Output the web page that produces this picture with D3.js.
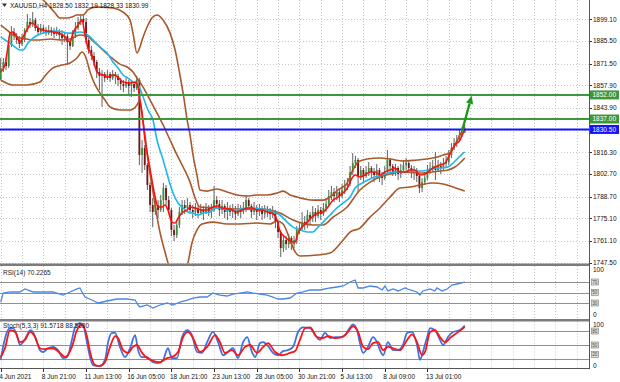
<!DOCTYPE html>
<html>
<head>
<meta charset="utf-8">
<script src="https://cdn.jsdelivr.net/npm/d3@7"></script>
<style>
html, body { margin: 0; padding: 0; background: #fff; }
svg { display: block; font-family: "Liberation Sans", Arial, sans-serif; }
</style>
</head>
<body>
<script>
// XAUUSD H4 bars (open of each bar = previous close)
var firstOpen = 1861.9;
var closes = [
  1868.8,1872.5,1870.0,1883.1,1891.2,1888.7,1886.2,1883.7,1886.2,1892.4,
  1897.4,1896.2,1898.6,1893.7,1891.2,1893.7,1891.8,1890.5,1892.4,1891.2,
  1889.9,1891.8,1889.3,1887.4,1888.7,1884.9,1882.5,1888.7,1893.7,1897.4,
  1899.3,1897.4,1886.2,1880.0,1876.2,1872.5,1866.3,1863.8,1865.0,1862.5,
  1865.0,1862.5,1865.0,1863.8,1861.3,1858.8,1857.5,1860.0,1857.5,1858.8,
  1856.3,1861.3,1814.6,1818.9,1808.3,1795.9,1783.4,1779.1,1783.4,1780.3,
  1786.5,1794.0,1786.5,1780.3,1767.9,1764.7,1771.0,1779.1,1783.4,1781.6,
  1783.4,1780.3,1779.1,1781.6,1778.4,1780.3,1779.1,1781.6,1779.1,1780.3,
  1786.5,1784.1,1780.3,1782.8,1779.1,1781.6,1779.1,1780.3,1777.8,1780.3,
  1779.1,1781.6,1786.5,1782.8,1779.1,1781.6,1779.1,1780.3,1777.8,1780.3,
  1779.1,1777.8,1779.1,1772.8,1766.6,1756.6,1761.6,1759.1,1762.9,1759.1,
  1761.6,1767.9,1769.1,1772.8,1771.0,1777.2,1775.3,1779.1,1776.6,1780.3,
  1777.8,1781.6,1784.1,1789.0,1791.5,1789.0,1791.5,1789.0,1792.8,1795.3,
  1796.5,1804.0,1809.6,1811.5,1801.5,1805.2,1801.5,1804.0,1806.5,1804.0,
  1802.1,1805.2,1801.5,1800.2,1804.0,1811.5,1807.7,1804.0,1806.5,1802.7,
  1805.2,1808.3,1809.6,1806.5,1804.0,1805.2,1801.5,1794.0,1797.7,1800.2,
  1805.2,1806.5,1807.7,1805.2,1807.7,1806.5,1809.0,1810.2,1814.6,1818.9,
  1822.0,1823.9,1827.0,1828.5,1830.99
];
var highs = [
  1875.0,1875.0,1875.0,1884.9,1894.9,1893.7,1890.5,1888.7,1889.9,1893.7,
  1902.4,1899.9,1903.6,1899.9,1896.2,1896.2,1895.5,1894.3,1895.5,1894.3,
  1893.7,1894.3,1893.0,1892.4,1891.2,1889.9,1886.2,1892.4,1897.4,1900.5,
  1901.8,1902.4,1899.9,1887.4,1882.5,1878.7,1873.7,1868.8,1867.5,1866.3,
  1867.5,1866.3,1867.5,1866.3,1865.0,1862.5,1861.3,1862.5,1861.3,1861.3,
  1858.8,1863.8,1862.5,1823.9,1820.8,1809.6,1797.7,1787.8,1786.5,1786.5,
  1789.7,1797.1,1795.9,1789.0,1781.6,1771.0,1774.1,1782.2,1786.5,1786.5,
  1787.8,1785.3,1783.4,1784.7,1783.4,1784.1,1782.8,1784.7,1783.4,1784.1,
  1795.3,1789.0,1786.5,1786.5,1784.1,1785.3,1783.4,1784.1,1782.8,1784.1,
  1783.4,1785.3,1789.7,1787.8,1784.1,1785.3,1783.4,1784.1,1782.8,1783.4,
  1782.8,1781.6,1782.8,1780.3,1774.1,1767.9,1764.1,1764.1,1765.4,1764.1,
  1764.1,1770.3,1772.8,1779.1,1776.6,1780.3,1779.1,1782.8,1781.6,1783.4,
  1782.2,1784.7,1787.8,1792.8,1795.3,1794.0,1795.3,1792.8,1796.5,1799.0,
  1800.2,1807.7,1815.8,1814.0,1812.7,1807.7,1806.5,1807.7,1810.2,1807.7,
  1806.5,1809.0,1806.5,1804.0,1807.7,1817.7,1812.7,1809.0,1809.0,1807.7,
  1809.0,1811.5,1812.7,1811.5,1808.3,1807.7,1806.5,1802.7,1800.2,1804.0,
  1808.3,1810.2,1811.5,1816.4,1811.5,1810.2,1812.7,1814.0,1817.7,1822.0,
  1825.1,1827.0,1830.1,1832.0,1832.19
];
var lows = [
  1861.3,1866.3,1867.5,1868.8,1881.8,1886.2,1883.7,1881.2,1882.5,1884.9,
  1891.2,1893.7,1894.3,1891.8,1888.7,1889.9,1889.9,1888.7,1889.3,1888.7,
  1887.4,1888.7,1886.2,1883.1,1884.9,1870.6,1880.0,1881.8,1887.4,1892.4,
  1895.5,1894.9,1883.7,1877.5,1873.7,1870.0,1862.5,1855.0,1844.5,1860.0,
  1861.3,1860.0,1861.3,1858.8,1857.5,1855.0,1853.8,1856.3,1852.6,1850.7,
  1853.8,1855.0,1808.3,1803.4,1805.2,1792.8,1779.1,1769.7,1777.2,1775.3,
  1779.1,1779.1,1783.4,1777.8,1764.1,1761.0,1762.9,1769.1,1777.2,1777.8,
  1780.3,1777.8,1775.3,1776.6,1775.3,1777.8,1774.1,1777.8,1776.6,1775.3,
  1779.1,1781.6,1776.6,1777.8,1775.3,1774.1,1776.6,1775.3,1774.1,1776.6,
  1775.3,1777.8,1779.1,1780.3,1775.3,1777.2,1774.1,1776.6,1774.1,1775.3,
  1775.9,1774.1,1775.3,1769.1,1762.9,1751.0,1754.2,1755.4,1756.6,1755.4,
  1756.6,1759.1,1765.4,1767.9,1767.9,1769.1,1771.6,1772.8,1772.8,1775.3,
  1774.1,1776.6,1779.1,1782.8,1786.5,1785.3,1786.5,1785.3,1787.8,1790.3,
  1792.8,1795.3,1802.1,1806.5,1790.9,1799.0,1797.7,1800.2,1801.5,1800.2,
  1797.7,1800.2,1797.7,1795.9,1799.0,1802.7,1804.0,1801.5,1801.5,1799.0,
  1800.2,1803.4,1805.2,1803.4,1800.2,1799.0,1797.7,1790.9,1791.5,1795.9,
  1799.0,1802.7,1804.0,1799.0,1804.0,1802.7,1805.2,1806.5,1808.3,1812.7,
  1817.7,1819.6,1822.7,1825.8,1828.33
];

// indicator lines: [bar, value]
var fastMA = [[0,1866.3],[1.6,1870.6],[2.7,1881.8],[3.5,1890.5],[4.6,1891.2],[6.1,1888.1],[7.2,1884.9],[8.4,1888.1],[10.2,1893.7],[11.7,1896.8],[13.6,1894.3],[15.5,1892.4],[17.4,1891.8],[19.6,1891.2],[21.5,1890.5],[23.4,1889.3],[24.9,1886.2],[26,1884.9],[27.1,1890.5],[29,1895.5],[30.5,1898.6],[31.6,1889.3],[32.7,1881.2],[34.2,1876.8],[35.4,1869.4],[36.5,1865.6],[38.4,1864.4],[40.2,1863.1],[42.1,1864.4],[44,1863.1],[45.9,1860.0],[48.5,1859.4],[50.4,1860.0],[51.5,1856.9],[52.2,1848.8],[53,1840.7],[54.1,1823.9],[55.2,1813.3],[56.7,1799.0],[57.9,1788.4],[59,1782.2],[60.5,1782.2],[61.6,1783.4],[62.7,1780.3],[64.2,1772.8],[65.4,1772.2],[66.5,1775.3],[68.4,1779.1],[69.9,1780.3],[71,1782.2],[72.9,1781.6],[75.9,1780.3],[77.7,1780.3],[79.6,1782.2],[81.1,1782.8],[83,1781.6],[86.7,1780.3],[88.6,1779.1],[90.5,1780.3],[92.4,1781.6],[94.2,1781.6],[96.1,1780.3],[98,1780.3],[99.9,1779.1],[101.7,1778.4],[103.6,1774.1],[104.7,1767.2],[106.6,1763.5],[108.5,1761.0],[110.4,1760.4],[111.5,1766.0],[113,1769.7],[114.9,1772.8],[116.7,1775.9],[119,1778.4],[120.9,1779.1],[122.7,1782.2],[124.6,1786.5],[126.5,1788.4],[128.3,1790.9],[130.2,1794.6],[131.7,1800.2],[132.9,1802.1],[134.7,1800.9],[136.6,1802.1],[138.5,1804.0],[140.4,1804.0],[142.2,1802.1],[144.1,1804.0],[146,1805.2],[147.8,1806.5],[149.7,1804.0],[151.6,1804.0],[153.5,1805.2],[155.3,1805.2],[157.2,1802.1],[159.1,1802.7],[161,1805.2],[162.8,1807.1],[164.7,1808.3],[166.6,1809.6],[167.7,1812.7],[169.2,1817.7],[170.3,1820.8],[172.2,1823.9],[173.4,1828.3],[174,1830.5]];
var slowMA = [[0,1888.1],[1.6,1886.2],[3.5,1884.3],[5.4,1881.8],[7.2,1880.0],[8.4,1880.0],[10.2,1884.3],[12.1,1887.4],[14,1889.3],[15.9,1890.5],[17.7,1891.2],[21.1,1891.8],[23.4,1891.2],[25.2,1890.5],[27.1,1890.5],[29.7,1891.2],[31.6,1890.5],[33.5,1888.1],[35.4,1884.9],[37.2,1881.8],[39.9,1878.1],[42.1,1872.5],[44,1868.8],[45.9,1864.4],[47.7,1862.5],[49.6,1860.0],[51.5,1858.2],[53.4,1850.7],[55.2,1842.6],[57.1,1836.4],[58.6,1823.9],[60.9,1811.5],[62.7,1800.9],[64.6,1790.9],[66.5,1784.7],[68.4,1781.6],[70.2,1779.1],[72.1,1778.4],[74,1777.2],[75.9,1778.4],[78.5,1779.1],[80.4,1781.6],[82.2,1781.6],[84.9,1780.3],[87.1,1780.3],[89.7,1780.9],[92.4,1781.6],[94.6,1781.6],[97.2,1780.9],[99.9,1780.3],[102.1,1779.1],[104.7,1777.2],[107.4,1772.8],[109.6,1769.7],[112.2,1767.9],[114.9,1766.6],[117.1,1766.6],[119,1769.7],[120.9,1772.8],[123.5,1777.2],[126.1,1781.6],[128.4,1784.7],[131,1788.4],[132.9,1794.0],[135.5,1797.1],[137.7,1799.0],[140.4,1800.9],[143,1802.1],[145.2,1803.4],[147.8,1804.0],[150.5,1804.0],[152.7,1804.6],[155.3,1804.6],[158,1804.6],[160.2,1805.2],[162.8,1806.5],[165.5,1806.5],[167.7,1807.1],[169.6,1809.6],[171.5,1812.7],[173.4,1815.8],[174,1816.4]];
var bbUpper = [[0,1929.8],[7.2,1922.3],[15.9,1911.1],[18.5,1906.7],[20.4,1903.0],[22.2,1899.9],[24.9,1899.9],[26.7,1900.5],[28.6,1901.8],[30.9,1901.8],[32.7,1904.9],[35.4,1906.7],[37.2,1906.7],[42.1,1906.1],[45.9,1903.6],[48.5,1898.6],[49.6,1890.5],[51.1,1878.1],[52.2,1881.8],[53.4,1888.1],[54.9,1894.3],[56.7,1899.9],[58.6,1901.8],[60.9,1898.6],[63.5,1890.5],[65.4,1880.0],[67.2,1864.4],[68.8,1848.8],[69.9,1836.4],[71,1827.0],[72.1,1814.6],[73.6,1802.1],[74.7,1792.8],[77.4,1792.1],[81.1,1793.4],[84.9,1791.5],[88.6,1789.7],[92.4,1789.0],[96.1,1789.7],[99.9,1789.7],[103.6,1790.9],[105.9,1792.1],[108.5,1789.7],[111.1,1788.4],[117.1,1786.5],[120.9,1786.5],[123.5,1788.4],[126.5,1792.8],[129.9,1797.1],[131.7,1804.0],[134,1810.2],[137.4,1812.1],[142.2,1812.7],[146,1812.1],[150.9,1810.8],[156.1,1811.5],[159.9,1812.1],[163.6,1813.3],[165.9,1814.6],[168.5,1815.8],[170.3,1820.8],[172.2,1827.0],[174,1833.3]];
var bbMiddle = [[0,1895.5],[2.4,1892.4],[4.6,1889.3],[7.2,1887.4],[9.9,1886.8],[12.1,1886.2],[14.7,1886.2],[18.5,1886.8],[22.2,1886.2],[26,1886.8],[29.7,1889.3],[32.4,1888.7],[34.6,1885.6],[37.2,1881.8],[39.9,1877.5],[42.1,1874.5],[44.7,1871.2],[47.4,1869.4],[49.6,1866.3],[51.1,1862.5],[53.4,1856.9],[56,1848.8],[58.6,1840.7],[60.9,1833.3],[63.5,1823.9],[66.1,1814.6],[68.4,1807.1],[71,1797.7],[72.9,1787.8],[74.7,1782.2],[82.2,1781.6],[89.7,1780.9],[97.2,1780.9],[101,1780.3],[104.7,1778.4],[109.6,1774.1],[117.1,1771.0],[120.9,1771.0],[124.6,1775.9],[129.9,1782.2],[134.7,1792.8],[138.5,1797.7],[142.2,1800.9],[146,1802.7],[149.7,1804.0],[157.2,1803.4],[164.7,1804.6],[167.7,1805.2],[170.3,1807.1],[172.2,1809.6],[174,1812.7]];
var bbLower = [[0,1861.3],[4.6,1858.2],[9.9,1858.2],[14.7,1860.0],[16.6,1863.8],[19.6,1868.8],[23,1870.6],[26,1871.9],[28.6,1875.0],[30.5,1878.7],[32,1875.0],[33.5,1866.3],[35.4,1858.2],[37.2,1853.2],[39.1,1848.8],[41,1844.5],[44.7,1842.6],[48.5,1842.6],[51.1,1845.7],[52.2,1848.8],[53,1839.5],[54.1,1827.0],[55.2,1811.5],[56.7,1795.9],[58.2,1780.3],[59.7,1766.6],[61.6,1754.2],[63.5,1743.0],[65.7,1733.6],[68,1736.7],[70.2,1747.3],[71.7,1759.8],[73.6,1767.9],[75.5,1771.6],[79.6,1772.8],[84.9,1771.6],[89.7,1771.6],[96.1,1772.2],[101,1771.6],[103.6,1773.5],[105.9,1771.6],[108.5,1761.6],[110.4,1754.2],[112.2,1751.7],[118.6,1752.3],[123.5,1753.5],[128.4,1761.6],[131,1766.6],[134.7,1769.1],[138.5,1775.9],[142.2,1781.6],[146,1788.4],[149.7,1794.0],[153.5,1794.6],[157.2,1795.9],[162.1,1797.1],[165.9,1796.5],[169.6,1794.6],[174,1792.1]];
var rsi = [[0,31.9],[0.9,49.0],[3.5,51.0],[7.2,51.0],[9.1,56.7],[12.1,51.0],[15.9,51.0],[19.6,51.0],[23.4,45.2],[26,51.0],[28.6,56.7],[29.7,58.6],[30.5,51.0],[31.6,41.4],[34.2,35.7],[36.5,30.0],[39.9,33.8],[43.6,37.6],[47.4,37.6],[50.4,35.7],[51.5,26.2],[52.2,22.4],[54.9,26.2],[57.1,20.5],[59.7,26.2],[62.4,30.0],[64.6,26.2],[67.2,31.9],[69.9,35.7],[72.1,39.5],[74.7,41.4],[77.4,41.4],[79.6,49.0],[82.2,45.2],[84.9,43.3],[87.1,47.1],[89.7,49.0],[92.4,51.0],[94.6,49.0],[97.2,47.1],[99.9,45.2],[102.1,41.4],[104,37.6],[105.9,37.6],[108.5,39.5],[111.1,49.0],[113.4,51.0],[116,54.8],[119.7,54.8],[123.5,58.6],[126.1,60.5],[128.4,62.4],[131,70.0],[132.9,73.8],[134,58.6],[135.9,58.6],[138.5,62.4],[141.1,60.5],[143,54.8],[144.1,62.4],[145.2,52.9],[147.1,56.7],[149,52.9],[151.6,58.6],[153.5,54.8],[156.1,51.0],[157.2,45.2],[158.3,52.9],[161,56.7],[162.8,52.9],[163.6,58.6],[165.5,52.9],[167.4,56.7],[169.2,64.3],[171.1,66.2],[173,68.1],[174,70.2]];
var stochK = [[0,18],[0.9,46],[2.4,78],[3.5,86],[4.6,86],[6.1,71],[7.2,50],[8.4,56],[9.9,71],[11,82],[12.1,78],[13.6,56],[14.7,39],[15.9,35],[17.7,43],[19.6,46],[21.5,39],[23.4,22],[24.9,24],[26.7,61],[27.9,88],[29.7,97],[30.9,93],[32.4,54],[33.5,24],[34.6,7],[37.2,5],[39.1,18],[40.2,54],[41.7,76],[42.9,76],[44.7,46],[46.6,24],[48.5,43],[50.4,71],[51.5,39],[53,24],[54.9,24],[57.1,13],[59,11],[60.9,18],[62.7,43],[64.2,22],[66.1,22],[68,67],[69.9,82],[71.7,71],[73.6,35],[75.5,33],[77.4,56],[79.6,78],[81.5,56],[83.4,28],[85.2,35],[87.1,43],[89,22],[90.9,56],[92.4,67],[94.2,35],[95.4,24],[97.2,54],[98.4,56],[100.2,48],[102.1,33],[104,28],[105.9,37],[107.7,39],[109.6,46],[111.5,78],[113.4,88],[116,86],[117.9,71],[119.7,61],[121.6,76],[123.5,65],[125.4,67],[127.2,67],[129.1,71],[131,88],[132.1,94],[133.6,82],[134.7,54],[135.9,33],[137.7,46],[139.6,67],[141.1,56],[142.2,39],[143.4,28],[145.2,56],[147.1,39],[149,39],[150.8,50],[152.4,76],[154.2,78],[156.1,50],[157.2,18],[158.3,35],[159.8,65],[161,86],[162.8,82],[164.7,61],[165.9,50],[167.7,67],[169.6,78],[172.2,82],[174,91.6]];
var stochD = [[0,24],[1.6,43],[3.5,82],[5.4,78],[7.2,56],[9.1,61],[11,78],[12.9,67],[14.7,43],[16.6,41],[19.6,43],[22.2,33],[24.1,24],[26.7,46],[28.6,82],[30.5,93],[32.4,67],[33.5,35],[35.4,7],[37.2,5],[39.1,13],[41,46],[42.9,69],[44,65],[45.9,39],[47.7,33],[49.6,46],[51.1,50],[53,33],[54.9,22],[57.1,16],[59.7,13],[62.4,22],[64.2,24],[66.5,35],[68.4,67],[70.2,78],[72.1,65],[74.7,35],[77.4,46],[80.4,71],[82.2,56],[84.1,33],[86.7,39],[89,28],[91.6,46],[93.5,50],[96.1,33],[98.4,46],[100.2,54],[102.9,35],[105.5,28],[108.5,33],[110.4,37],[112.2,61],[114.1,86],[116,88],[118.6,67],[120.9,65],[122.7,69],[125.4,65],[128,67],[129.9,76],[132.1,90],[134,78],[135.9,46],[137.7,41],[139.6,54],[141.5,56],[143.4,39],[145.2,46],[147.1,43],[149.7,39],[152.4,61],[154.2,73],[156.1,56],[158,28],[159.1,35],[161,78],[162.8,82],[164.7,67],[166.6,56],[168.5,65],[171.1,76],[174,88.6]];

var priceTicks = [1899.10, 1885.50, 1871.50, 1857.90, 1843.90, 1830.30, 1816.30, 1802.70, 1788.70, 1775.10, 1761.10, 1747.50];
var hLevels = [1852.00, 1837.00, 1830.50];
var timeLabels = ['4 Jun 2021', '8 Jun 21:00', '11 Jun 13:00', '16 Jun 05:00', '18 Jun 21:00', '23 Jun 13:00',
  '28 Jun 05:00', '30 Jun 21:00', '5 Jul 13:00', '8 Jul 09:00', '13 Jul 01:00'];
var arrowFrom = [173, 1829.5], arrowTo = [176.6, 1851.5];
var rsiLevels = [70, 50, 30], stochLevels = [80, 50, 20];
var rsiText = 'RSI(14) 70.2265';
var stochText = 'Stoch(5,3,3) 91.5718 88.5680';

var W = 620, H = 382, plotR = 589;
var x = d3.scaleLinear().domain([0, 220]).range([0.7, 0.7 + 2.667 * 220]);
var y = d3.scaleLinear().domain([1747.5, 1899.1]).range([262.7, 19.3]);
var yR = d3.scaleLinear().domain([0, 100]).range([318.75, 266.25]);
var yS = d3.scaleLinear().domain([0, 100]).range([368.3, 321.7]);
var panels = [[0, 263.5], [266, 319], [321.5, 368.5]];
var fs = 6.5;

var svg = d3.select('body').append('svg').attr('width', W).attr('height', H);
svg.append('rect').attr('width', W).attr('height', H).attr('fill', '#fff');
var defs = svg.append('defs');
['cMain', 'cRsi', 'cSto'].forEach(function (id, i) {
  defs.append('clipPath').attr('id', id).append('rect')
    .attr('x', 0).attr('y', panels[i][0]).attr('width', plotR).attr('height', panels[i][1] - panels[i][0]);
});
function px(v) { return Math.round(v) + 0.5; }

// dotted grid
panels.forEach(function (p) {
  svg.append('g').selectAll('line').data(d3.range(0, 221, 8)).enter().append('line')
    .attr('x1', function (d) { return px(x(d)); }).attr('x2', function (d) { return px(x(d)); })
    .attr('y1', p[0]).attr('y2', p[1])
    .attr('stroke', '#c6c6c6').attr('stroke-dasharray', '1,2');
});
svg.append('g').selectAll('line').data(priceTicks).enter().append('line')
  .attr('x1', 0).attr('x2', plotR)
  .attr('y1', function (d) { return px(y(d)); }).attr('y2', function (d) { return px(y(d)); })
  .attr('stroke', '#c6c6c6').attr('stroke-dasharray', '1,2');

// candles
var main = svg.append('g').attr('clip-path', 'url(#cMain)');
var bars = closes.map(function (c, i) {
  var o = i ? closes[i - 1] : firstOpen;
  return { i: i, o: o, c: c, h: Math.max(highs[i], o, c), l: Math.min(lows[i], o, c) };
});
main.append('g').selectAll('line').data(bars).enter().append('line')
  .attr('x1', function (d) { return x(d.i); }).attr('x2', function (d) { return x(d.i); })
  .attr('y1', function (d) { return y(d.h); }).attr('y2', function (d) { return y(d.l); })
  .attr('stroke', '#3a3a3a').attr('stroke-width', 0.8);
main.append('g').selectAll('rect').data(bars).enter().append('rect')
  .attr('x', function (d) { return x(d.i) - 0.9; }).attr('width', 1.8)
  .attr('y', function (d) { return y(Math.max(d.o, d.c)); })
  .attr('height', function (d) { return Math.max(0.8, Math.abs(y(d.o) - y(d.c))); })
  .attr('fill', function (d) { return d.c >= d.o ? '#3a8f3a' : '#751414'; });

// bands and moving averages
var lineMain = d3.line().x(function (d) { return x(d[0]); }).y(function (d) { return y(d[1]); }).curve(d3.curveMonotoneX);
[bbUpper, bbMiddle, bbLower].forEach(function (s) {
  main.append('path').attr('d', lineMain(s)).attr('fill', 'none').attr('stroke', '#a9592b').attr('stroke-width', 1.6);
});
main.append('path').attr('d', lineMain(slowMA)).attr('fill', 'none').attr('stroke', '#1cb8ea').attr('stroke-width', 1.6);
main.append('path').attr('d', lineMain(fastMA)).attr('fill', 'none').attr('stroke', '#ff1010').attr('stroke-width', 1.6);

// horizontal levels
var levelColors = ['#3d983d', '#3d983d', '#1414ff'];
hLevels.forEach(function (v, i) {
  main.append('line').attr('x1', 0).attr('x2', plotR).attr('y1', y(v)).attr('y2', y(v))
    .attr('stroke', levelColors[i]).attr('stroke-width', 2);
});

// arrow
var ax0 = x(arrowFrom[0]), ay0 = y(arrowFrom[1]), ax1 = x(arrowTo[0]), ay1 = y(arrowTo[1]);
var ang = Math.atan2(ay1 - ay0, ax1 - ax0), hl = 8, hw = 3.6;
var bx = ax1 - hl * Math.cos(ang), by = ay1 - hl * Math.sin(ang);
main.append('line').attr('x1', ax0).attr('y1', ay0).attr('x2', bx).attr('y2', by)
  .attr('stroke', '#1c961c').attr('stroke-width', 2.4);
main.append('path')
  .attr('d', 'M' + ax1 + ',' + ay1 + 'L' + (bx - hw * Math.sin(ang)) + ',' + (by + hw * Math.cos(ang)) +
    'L' + (bx + hw * Math.sin(ang)) + ',' + (by - hw * Math.cos(ang)) + 'Z')
  .attr('fill', '#1c961c');

// title
var last = bars[bars.length - 1];
svg.append('path').attr('d', 'M2,3.5L7,3.5L4.5,7Z').attr('fill', '#333');
svg.append('text').attr('x', 10).attr('y', 8).attr('font-size', fs).attr('fill', '#111')
  .text('XAUUSD,H4  ' + last.o.toFixed(2) + ' ' + last.h.toFixed(2) + ' ' + last.l.toFixed(2) + ' ' + last.c.toFixed(2));

// price axis
svg.append('g').selectAll('text').data(priceTicks).enter().append('text')
  .attr('x', 593).attr('y', function (d) { return y(d) + 2.3; })
  .attr('font-size', fs).attr('fill', '#111').text(function (d) { return d.toFixed(2); });
svg.append('g').selectAll('line').data(priceTicks).enter().append('line')
  .attr('x1', plotR).attr('x2', plotR + 3)
  .attr('y1', function (d) { return px(y(d)); }).attr('y2', function (d) { return px(y(d)); })
  .attr('stroke', '#333');
hLevels.forEach(function (v, i) {
  svg.append('rect').attr('x', 590).attr('y', y(v) - 4.5).attr('width', 29).attr('height', 9).attr('fill', levelColors[i]);
  svg.append('text').attr('x', 592.5).attr('y', y(v) + 2.3).attr('font-size', fs).attr('fill', '#fff').text(v.toFixed(2));
});

// level lines with small value boxes; shift moves a box clear of the axis end label
function levelLines(levels, sc, shift) {
  svg.append('g').selectAll('line').data(levels).enter().append('line')
    .attr('x1', 0).attr('x2', plotR)
    .attr('y1', function (d) { return px(sc(d)); }).attr('y2', function (d) { return px(sc(d)); })
    .attr('stroke', '#8f8f8f');
  svg.append('g').selectAll('rect').data(levels).enter().append('rect')
    .attr('x', 591.5).attr('y', function (d, i) { return sc(d) - 3 + shift[i]; }).attr('width', 7).attr('height', 6)
    .attr('fill', '#dcdcdc').attr('stroke', '#7a7a7a').attr('stroke-width', 0.6);
  svg.append('g').selectAll('text').data(levels).enter().append('text')
    .attr('x', 592.3).attr('y', function (d, i) { return sc(d) + 1.7 + shift[i]; })
    .attr('font-size', 4.6).attr('fill', '#444').text(function (d) { return d; });
}

// RSI panel
levelLines(rsiLevels, yR, [0, 0, 0]);
svg.append('path').attr('clip-path', 'url(#cRsi)')
  .attr('d', d3.line().x(function (d) { return x(d[0]); }).y(function (d) { return yR(d[1]); })(rsi))
  .attr('fill', 'none').attr('stroke', '#4a86e8').attr('stroke-width', 1.3);
svg.append('text').attr('x', 3).attr('y', 274.5).attr('font-size', fs).attr('fill', '#222').text(rsiText);
svg.append('text').attr('x', 593).attr('y', yR(100) + 6).attr('font-size', fs).attr('fill', '#111').text('100');
svg.append('text').attr('x', 593).attr('y', yR(0) - 2).attr('font-size', fs).attr('fill', '#111').text('0');

// Stochastic panel
levelLines(stochLevels, yS, [0, 0, -4.5]);
var lineS = d3.line().x(function (d) { return x(d[0]); }).y(function (d) { return yS(d[1]); }).curve(d3.curveMonotoneX);
svg.append('path').attr('clip-path', 'url(#cSto)').attr('d', lineS(stochK))
  .attr('fill', 'none').attr('stroke', '#3f72e0').attr('stroke-width', 1.8);
svg.append('path').attr('clip-path', 'url(#cSto)').attr('d', lineS(stochD))
  .attr('fill', 'none').attr('stroke', '#ff1414').attr('stroke-width', 1.8);
svg.append('text').attr('x', 3).attr('y', 328).attr('font-size', fs).attr('fill', '#222').text(stochText);
svg.append('text').attr('x', 593).attr('y', yS(100) + 5.6).attr('font-size', fs).attr('fill', '#111').text('100');
svg.append('text').attr('x', 593).attr('y', yS(0) - 0.6).attr('font-size', fs).attr('fill', '#111').text('0');

// separators and borders
svg.append('rect').attr('x', 0).attr('y', 263.5).attr('width', plotR).attr('height', 2.5).attr('fill', '#7c7c7c');
svg.append('rect').attr('x', 0).attr('y', 319).attr('width', plotR).attr('height', 2.5).attr('fill', '#7c7c7c');
svg.append('line').attr('x1', 0).attr('x2', plotR + 0.5).attr('y1', 368.5).attr('y2', 368.5).attr('stroke', '#555');
svg.append('line').attr('x1', plotR + 0.5).attr('x2', plotR + 0.5).attr('y1', 0).attr('y2', 369).attr('stroke', '#555');

// time axis
var timeBars = timeLabels.map(function (t, i) { return i * 16; });
svg.append('g').selectAll('line').data(timeBars).enter().append('line')
  .attr('x1', function (d) { return px(x(d)); }).attr('x2', function (d) { return px(x(d)); })
  .attr('y1', 369).attr('y2', 372).attr('stroke', '#333');
svg.append('g').selectAll('text').data(timeLabels).enter().append('text')
  .attr('x', function (d, i) { return x(timeBars[i]) - 1.5; }).attr('y', 378.5)
  .attr('font-size', fs).attr('fill', '#111').text(function (d) { return d; });
</script>
</body>
</html>
